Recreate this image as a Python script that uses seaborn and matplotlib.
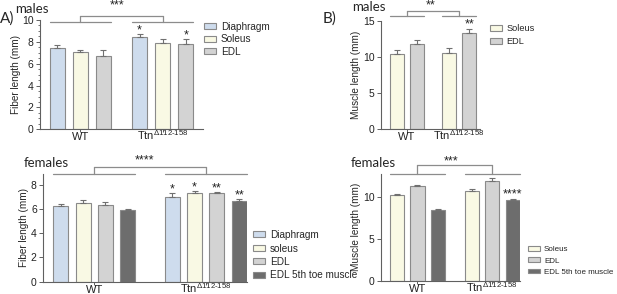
import numpy as np
import pandas as pd
import matplotlib
matplotlib.use("Agg")
import matplotlib.pyplot as plt
import seaborn as sns
from matplotlib.ticker import AutoMinorLocator

# ---- data ----
genotypes = ["WT", "Ttn"]
tick_labels = ["WT", r"Ttn$^{\mathrm{\Delta112‐158}}$"]

# A) fiber length, males
fib_m_muscles = ["Diaphragm", "Soleus", "EDL"]
fib_m_wt = [7.4, 7.05, 6.7]
fib_m_wt_err = [0.35, 0.2, 0.6]
fib_m_ttn = [8.4, 7.85, 7.8]
fib_m_ttn_err = [0.3, 0.4, 0.45]
fib_m_stars = ["*", "", "*"]

# A) fiber length, females
fib_f_muscles = ["Diaphragm", "soleus", "EDL", "EDL 5th toe muscle"]
fib_f_wt = [6.25, 6.5, 6.35, 5.9]
fib_f_wt_err = [0.15, 0.25, 0.2, 0.07]
fib_f_ttn = [7.0, 7.35, 7.35, 6.7]
fib_f_ttn_err = [0.3, 0.12, 0.05, 0.12]
fib_f_stars = ["*", "*", "**", "**"]

# B) muscle length, males
mus_m_muscles = ["Soleus", "EDL"]
mus_m_wt = [10.4, 11.8]
mus_m_wt_err = [0.6, 0.6]
mus_m_ttn = [10.6, 13.35]
mus_m_ttn_err = [0.6, 0.6]
mus_m_stars = ["", "**"]

# B) muscle length, females
mus_f_muscles = ["Soleus", "EDL", "EDL 5th toe muscle"]
mus_f_wt = [10.3, 11.4, 8.5]
mus_f_wt_err = [0.08, 0.1, 0.15]
mus_f_ttn = [10.8, 12.0, 9.7]
mus_f_ttn_err = [0.25, 0.35, 0.15]
mus_f_stars = ["", "", "****"]

COLORS = {"Diaphragm": "#c9dcf2", "Soleus": "#fdfde0", "soleus": "#fdfde0",
          "EDL": "#d3d3d3", "EDL 5th toe muscle": "#6d6d6d"}
EDGE = "#8a8a8a"
LINE = "#8c8c8c"

sns.set_style("ticks")
plt.rcParams["font.family"] = ["Liberation Sans", "DejaVu Sans"]
plt.rcParams["mathtext.fontset"] = "custom"
plt.rcParams["mathtext.rm"] = "Liberation Sans"
plt.rcParams["axes.edgecolor"] = "#606060"
plt.rcParams["xtick.color"] = "#606060"
plt.rcParams["ytick.color"] = "#606060"
plt.rcParams["xtick.labelcolor"] = "#222222"
plt.rcParams["ytick.labelcolor"] = "#222222"

fig = plt.figure(figsize=(6.17, 2.94), dpi=100)
W, H = 617, 294


def px_rect(x0, y_top, x1, y_bot):
    return [x0 / W, 1 - y_bot / H, (x1 - x0) / W, (y_bot - y_top) / H]


def panel(rect, muscles, wt, wt_err, ttn, ttn_err, stars, ylim, yticks, xlim,
          width, gap, ylabel, br_y, br_top, sig, sig_y, leg_xy, leg_fs=7.2,
          leg_sp=0.12, minor=False):
    ax = fig.add_axes(rect)
    df = pd.DataFrame({
        "genotype": [genotypes[0]] * len(muscles) + [genotypes[1]] * len(muscles),
        "muscle": muscles * 2,
        "value": wt + ttn,
    })
    sns.barplot(data=df, x="genotype", y="value", hue="muscle", order=genotypes,
                hue_order=muscles, palette=[COLORS[m] for m in muscles],
                width=width, gap=gap, errorbar=None, edgecolor=EDGE,
                linewidth=0.8, ax=ax, zorder=2)
    errs = [wt_err, ttn_err]
    # bars of each genotype, sorted left to right = hue order
    bars = [b for b in ax.patches if b.get_height() > 0 and b.get_width() < 1]
    centers = []
    for j in (0, 1):
        grp = sorted([b for b in bars if round(b.get_x() + b.get_width() / 2) == j],
                     key=lambda b: b.get_x())
        for i, bar in enumerate(grp):
            x = bar.get_x() + bar.get_width() / 2
            h = bar.get_height()
            e = errs[j][i]
            ax.errorbar(x, h, yerr=[[0], [e]], fmt="none", ecolor="#707070",
                        elinewidth=0.8, capsize=2.5, capthick=0.8, zorder=3)
            if j == 1 and stars[i]:
                ax.annotate(stars[i], (x, h + e), xytext=(0, -1.5),
                            textcoords="offset points", ha="center",
                            va="bottom", fontsize=9, color="#222222")
        # bracket arm spanning this group's bars
        l = grp[0].get_x()
        r = grp[-1].get_x() + grp[-1].get_width()
        c = (l + r) / 2
        centers.append(c)
        ax.plot([l, r], [br_y, br_y], color=LINE, lw=0.9, clip_on=False)
        ax.plot([c, c], [br_y, br_top], color=LINE, lw=0.9, clip_on=False)
    ax.plot(centers, [br_top, br_top], color=LINE, lw=0.9, clip_on=False)
    ax.text(np.mean(centers) - 0.05, sig_y, sig, ha="center", va="center",
            fontsize=9, color="#222222")

    ax.set_xlim(*xlim)
    ax.set_ylim(*ylim)
    ax.set_yticks(yticks)
    if minor:
        ax.yaxis.set_minor_locator(AutoMinorLocator(4))
        ax.tick_params(axis="y", which="minor", length=1.5, width=0.6)
    ax.set_xticks([0, 1])
    ax.set_xticklabels(tick_labels, fontsize=8)
    for lab in ax.get_xticklabels():
        lab.set_verticalalignment("baseline")
    ax.tick_params(axis="y", labelsize=7.5, length=3, width=0.7, pad=1.5)
    ax.tick_params(axis="x", length=2, width=0.7, pad=6)
    ax.set_xlabel("")
    ax.set_ylabel(ylabel, fontsize=7.2, labelpad=1)
    sns.despine(ax=ax)
    handles, labels = ax.get_legend_handles_labels()
    ax.legend(handles, labels, loc="upper left",
              bbox_to_anchor=(leg_xy[0] / W, 1 - leg_xy[1] / H),
              bbox_transform=fig.transFigure, frameon=False, borderpad=0,
              borderaxespad=0, handlelength=12 / (leg_fs * 100 / 72),
              handleheight=0.55, handletextpad=0.5, labelspacing=leg_sp,
              fontsize=leg_fs)
    return ax


panel(px_rect(40, 20, 203, 129.3), fib_m_muscles, fib_m_wt, fib_m_wt_err,
      fib_m_ttn, fib_m_ttn_err, fib_m_stars, (0, 10), [0, 2, 4, 6, 8, 10],
      (-0.49, 1.49), 0.84, 0.37, "Fiber length (mm)", 9.78, 10.4, "***", 11.3,
      (204, 22), leg_sp=0.25, minor=True)

panel(px_rect(43, 174, 247, 281.7), fib_f_muscles, fib_f_wt, fib_f_wt_err,
      fib_f_ttn, fib_f_ttn_err, fib_f_stars, (0, 8.9), [0, 2, 4, 6, 8],
      (-0.46, 1.37), 0.8, 0.33, "Fiber length (mm)", 8.9, 9.5, "****", 10.0,
      (253, 230), leg_sp=0.35)

panel(px_rect(380.7, 21, 480, 129), mus_m_muscles, mus_m_wt, mus_m_wt_err,
      mus_m_ttn, mus_m_ttn_err, mus_m_stars, (0, 15), [0, 5, 10, 15],
      (-0.5, 1.4), 0.77, 0.3, "Muscle length (mm)", 15.7, 16.4, "**", 17.2,
      (490, 24), leg_fs=6.6, leg_sp=0.45)

panel(px_rect(380.7, 174, 520, 280.7), mus_f_muscles, mus_f_wt, mus_f_wt_err,
      mus_f_ttn, mus_f_ttn_err, mus_f_stars, (0, 12.8), [0, 5, 10],
      (-0.49, 1.37), 0.82, 0.3, "Muscle length (mm)", 12.8, 13.9, "***", 14.3,
      (528, 246), leg_fs=5.8, leg_sp=0.5)

# panel titles / letters
title_font = ["Lato", "DejaVu Sans"]
fig.text(15 / W, 1 - 9 / H, "males", fontsize=9.5, family=title_font, va="center")
fig.text(24 / W, 1 - 163 / H, "females", fontsize=9.5, family=title_font, va="center")
fig.text(352 / W, 1 - 7 / H, "males", fontsize=9.5, family=title_font, va="center")
fig.text(351 / W, 1 - 163 / H, "females", fontsize=9.5, family=title_font, va="center")
fig.text(0 / W, 1 - 19 / H, "A)", fontsize=11, family=title_font, va="center")
fig.text(323 / W, 1 - 19 / H, "B)", fontsize=11, family=title_font, va="center")

fig.savefig("out.png", dpi=100)
